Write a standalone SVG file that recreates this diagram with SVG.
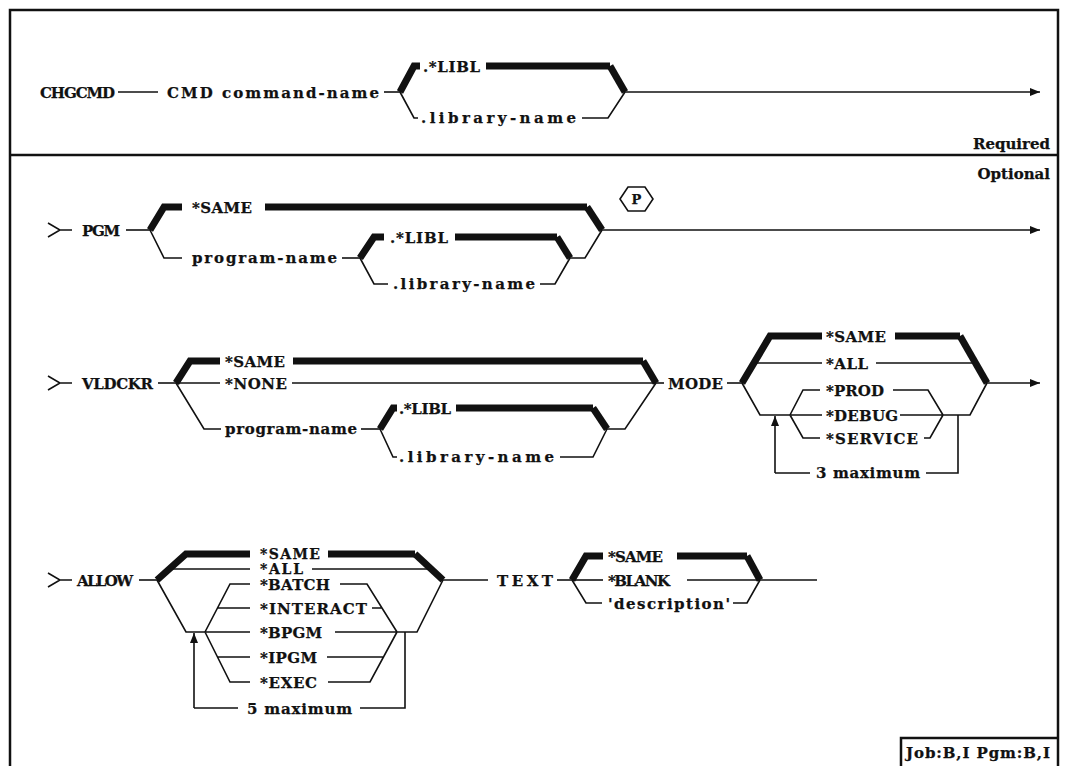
<svg xmlns="http://www.w3.org/2000/svg" width="1073" height="766" viewBox="0 0 1073 766">
<defs>
<style>
text{font-family:"DejaVu Serif","Liberation Serif",serif;font-weight:bold;font-size:15px;fill:#111;stroke:#111;stroke-width:0.25}
.t{fill:none;stroke:#111;stroke-width:1.6}
.k{fill:none;stroke:#111;stroke-width:7;stroke-linejoin:miter}
.f{fill:none;stroke:#111;stroke-width:2.5}
</style>
<marker id="ar" markerWidth="11" markerHeight="9" refX="10" refY="4.5" orient="auto" markerUnits="userSpaceOnUse">
<path d="M0,0.5 L10,4.5 L0,8.5 Z" fill="#111"/>
</marker>
</defs>
<rect width="1073" height="766" fill="#fff"/>
<g id="frame">
<path class="f" d="M10,766 V10 H1058 V766"/>
<line class="f" x1="10" y1="155" x2="1058" y2="155"/>
<text x="1050" y="149" text-anchor="end">Required</text>
<text x="1050" y="179" text-anchor="end">Optional</text>
<path class="f" d="M901,766 V738 H1058"/>
<text x="906" y="758" textLength="144">Job:B,I Pgm:B,I</text>
</g>
<g id="connectors">
<!-- row 1 -->
<line class="t" x1="118" y1="92" x2="158" y2="92"/>
<line class="t" x1="384" y1="92" x2="400" y2="92"/>
<path class="k" d="M400,92 L414,66 L420,66"/>
<line class="k" x1="486" y1="66" x2="610" y2="66"/>
<path class="k" d="M610,66 L625,92"/>
<path class="t" d="M400,92 L414,118 L418,118"/>
<path class="t" d="M582,118 L608,118 L625,92"/>
<line class="t" x1="624" y1="92" x2="1040" y2="92" marker-end="url(#ar)"/>
<!-- PGM -->
<path class="t" d="M48,223 L60,230 L48,237 M60,230 H72"/>
<line class="t" x1="126" y1="230" x2="150" y2="230"/>
<path class="k" d="M150,230 L164,207 L182,207"/>
<line class="k" x1="265" y1="207" x2="587" y2="207"/>
<path class="k" d="M587,207 L602,230"/>
<path class="t" d="M150,230 L164,258 L182,258"/>
<line class="t" x1="342" y1="258" x2="360" y2="258"/>
<path class="k" d="M360,258 L374,237 L384,237"/>
<line class="k" x1="455" y1="237" x2="557" y2="237"/>
<path class="k" d="M557,237 L570,258"/>
<path class="t" d="M569,258 L585,258 L602,230"/>
<path class="t" d="M360,258 L374,284 L388,284"/>
<path class="t" d="M540,284 L555,284 L570,258"/>
<line class="t" x1="601" y1="230" x2="1040" y2="230" marker-end="url(#ar)"/>
<!-- VLDCKR -->
<path class="t" d="M48,376 L60,383 L48,390 M60,383 H72"/>
<line class="t" x1="158" y1="383" x2="176" y2="383"/>
<path class="k" d="M176,383 L190,361 L220,361"/>
<line class="k" x1="293" y1="361" x2="643" y2="361"/>
<path class="k" d="M643,361 L656,383"/>
<line class="t" x1="176" y1="383" x2="220" y2="383"/>
<line class="t" x1="292" y1="383" x2="656" y2="383"/>
<path class="t" d="M176,383 L204,429 L221,429"/>
<line class="t" x1="361" y1="429" x2="380" y2="429"/>
<path class="k" d="M380,429 L393,408 L397,408"/>
<line class="k" x1="456" y1="408" x2="593" y2="408"/>
<path class="k" d="M593,408 L607,429"/>
<path class="t" d="M606,429 L625,429 L656,383"/>
<path class="t" d="M380,429 L393,457 L397,457"/>
<path class="t" d="M560,457 L593,457 L607,429"/>
<line class="t" x1="656" y1="383" x2="664" y2="383"/>
<line class="t" x1="727" y1="383" x2="742" y2="383"/>
<!-- MODE -->
<path class="k" d="M742,383 L770,336 L822,336"/>
<line class="k" x1="895" y1="336" x2="960" y2="336"/>
<path class="k" d="M960,336 L987,383"/>
<line class="t" x1="754" y1="363" x2="822" y2="363"/>
<line class="t" x1="876" y1="363" x2="975" y2="363"/>
<path class="t" d="M742,383 L760,415 L790,415"/>
<path class="t" d="M790,415 L803,390 L820,390 M790,415 L822,415 M790,415 L803,438 L820,438"/>
<path class="t" d="M893,390 L928,390 L943,415 M900,415 L943,415 M924,438 L930,438 L943,415"/>
<path class="t" d="M943,415 L970,415 L987,383"/>
<line class="t" x1="986" y1="383" x2="1040" y2="383" marker-end="url(#ar)"/>
<path class="t" d="M958,415 V473 H926 M810,473 H775"/>
<line class="t" x1="775" y1="473" x2="775" y2="416" marker-end="url(#ar)"/>
<!-- ALLOW -->
<path class="t" d="M48,573 L60,580 L48,587 M60,580 H72"/>
<line class="t" x1="139" y1="580" x2="157" y2="580"/>
<path class="k" d="M157,580 L186,554 L250,554"/>
<line class="k" x1="328" y1="554" x2="415" y2="554"/>
<path class="k" d="M415,554 L443,580"/>
<line class="t" x1="170" y1="569" x2="250" y2="569"/>
<line class="t" x1="312" y1="569" x2="431" y2="569"/>
<path class="t" d="M157,580 L186,632 L205,632"/>
<path class="t" d="M205,632 L230,584 L250,584 M218,608 L250,608 M205,632 L250,632 M218,657 L250,657 M205,632 L230,682 L250,682"/>
<path class="t" d="M340,584 L367,584 L397,632 M372,608 L382,608 M335,632 L397,632 M327,657 L384,657 M328,682 L370,682 L397,632"/>
<path class="t" d="M397,632 L417,632 L443,580"/>
<line class="t" x1="443" y1="580" x2="488" y2="580"/>
<path class="t" d="M405,632 V708 H360 M238,708 H194"/>
<line class="t" x1="194" y1="708" x2="194" y2="633" marker-end="url(#ar)"/>
<!-- TEXT -->
<line class="t" x1="557" y1="580" x2="572" y2="580"/>
<path class="k" d="M572,580 L586,556 L603,556"/>
<line class="k" x1="677" y1="556" x2="747" y2="556"/>
<path class="k" d="M747,556 L760,580"/>
<line class="t" x1="572" y1="580" x2="603" y2="580"/>
<line class="t" x1="687" y1="580" x2="760" y2="580"/>
<path class="t" d="M572,580 L586,603 L602,603"/>
<path class="t" d="M733,603 L747,603 L760,580"/>
<line class="t" x1="759" y1="580" x2="817" y2="580"/>
</g>
<g id="n-chgcmd"><text x="40" y="98" textLength="75">CHGCMD</text></g>
<g id="n-cmd"><text x="167" y="98" textLength="212">CMD command-name</text></g>
<g id="n-libl1"><text x="423" y="72" textLength="57">.*LIBL</text></g>
<g id="n-lib1"><text x="421" y="123" textLength="155">.library-name</text></g>
<g id="n-pgm"><text x="82" y="236" textLength="38">PGM</text></g>
<g id="n-pgm-same"><text x="192" y="213" textLength="60">*SAME</text></g>
<g id="n-pgm-p"><path class="t" d="M620,199 L628,187 L645,187 L653,199 L645,211 L628,211 Z"/><text x="636.5" y="204" text-anchor="middle" style="font-size:13px">P</text></g>
<g id="n-pgm-prog"><text x="192" y="263" textLength="145">program-name</text></g>
<g id="n-pgm-libl"><text x="390" y="243" textLength="58">.*LIBL</text></g>
<g id="n-pgm-lib"><text x="393" y="289" textLength="142">.library-name</text></g>
<g id="n-vldckr"><text x="82" y="389" textLength="71">VLDCKR</text></g>
<g id="n-v-same"><text x="225" y="367" textLength="60">*SAME</text></g>
<g id="n-v-none"><text x="225" y="389" textLength="62">*NONE</text></g>
<g id="n-v-prog"><text x="225" y="434" textLength="132">program-name</text></g>
<g id="n-v-libl"><text x="399" y="414" textLength="52">.*LIBL</text></g>
<g id="n-v-lib"><text x="399" y="462" textLength="155">.library-name</text></g>
<g id="n-mode"><text x="668" y="389" textLength="55">MODE</text></g>
<g id="n-m-same"><text x="826" y="342" textLength="60">*SAME</text></g>
<g id="n-m-all"><text x="826" y="369" textLength="42">*ALL</text></g>
<g id="n-m-prod"><text x="826" y="396" textLength="58">*PROD</text></g>
<g id="n-m-debug"><text x="826" y="421" textLength="72">*DEBUG</text></g>
<g id="n-m-service"><text x="826" y="444" textLength="92">*SERVICE</text></g>
<g id="n-m-max"><text x="816" y="478" textLength="104">3 maximum</text></g>
<g id="n-allow"><text x="77" y="586" textLength="56">ALLOW</text></g>
<g id="n-a-same"><text x="260" y="559" textLength="60" style="font-size:14px">*SAME</text></g>
<g id="n-a-all"><text x="260" y="574" textLength="43" style="font-size:14px">*ALL</text></g>
<g id="n-a-batch"><text x="260" y="590" textLength="70">*BATCH</text></g>
<g id="n-a-interact"><text x="260" y="614" textLength="107">*INTERACT</text></g>
<g id="n-a-bpgm"><text x="260" y="638" textLength="62">*BPGM</text></g>
<g id="n-a-ipgm"><text x="260" y="663" textLength="57">*IPGM</text></g>
<g id="n-a-exec"><text x="260" y="688" textLength="57">*EXEC</text></g>
<g id="n-a-max"><text x="247" y="714" textLength="105">5 maximum</text></g>
<g id="n-text"><text x="497" y="586" textLength="56">TEXT</text></g>
<g id="n-t-same"><text x="608" y="562" textLength="55">*SAME</text></g>
<g id="n-t-blank"><text x="608" y="586" textLength="62">*BLANK</text></g>
<g id="n-t-desc"><text x="608" y="609" textLength="122">'description'</text></g>
</svg>
